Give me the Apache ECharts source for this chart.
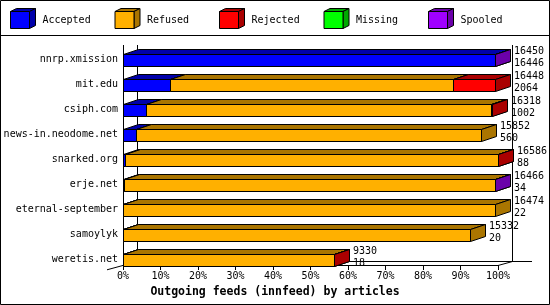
<!DOCTYPE html>
<html>
<head>
<meta charset="utf-8">
<script src="https://cdn.jsdelivr.net/npm/echarts@6/dist/echarts.min.js"></script>
<style>html,body{margin:0;padding:0;background:#fff}#c{width:550px;height:305px}</style>
</head>
<body>
<div id="c"></div>
<script>
const categories = ['nnrp.xmission','mit.edu','csiph.com','news-in.neodome.net','snarked.org','erje.net','eternal-september','samoylyk','weretis.net'];
const offered  = [16450,16448,16318,15852,16586,16466,16474,15332,9330];
const accepted = [16446,2064,1002,560,88,34,22,20,18];
const refused  = [0,12518,15296,15292,16488,16424,16452,15312,9302];
const rejected = [0,1866,20,0,10,0,0,0,10];
const missing  = [0,0,0,0,0,0,0,0,0];
const spooled  = [4,0,0,0,0,8,0,0,0];
const seriesNames = ['Accepted','Refused','Rejected','Missing','Spooled'];
const xTicks = [0,10,20,30,40,50,60,70,80,90,100];
const title = 'Outgoing feeds (innfeed) by articles';

const front = ['#0000ff','#ffb000','#ff0000','#00ff00','#a000ff'];
const dark  = ['#0000aa','#aa7500','#aa0000','#00aa00','#6b00aa'];
const FONT = '"DejaVu Sans Mono", "Liberation Mono", monospace';
const DX = 15, DY = 5, H = 12;

const base = Math.max.apply(null, offered);
const values = [accepted, refused, rejected, missing, spooled];

function boxRender(ci) {
  return function (params, api) {
    const s = api.value(0), e = api.value(1), cat = api.value(2);
    if (!(e > s)) return null;
    const p0 = api.coord([s, cat]), p1 = api.coord([e, cat]);
    const bc = p0[1];
    const x0 = Math.round(p0[0]) + 0.5, x1 = Math.round(p1[0]) + 0.5;
    const yt = Math.round(bc + 1) + 0.5, yb = yt + H;
    const st = {stroke:'#000', lineWidth:1};
    return {type:'group', children:[
      {type:'rect', shape:{x:x0, y:yt, width:x1-x0, height:H}, style:Object.assign({fill:front[ci]}, st)},
      {type:'polygon', shape:{points:[[x0,yt],[x1,yt],[x1+DX,yt-DY],[x0+DX,yt-DY]]}, style:Object.assign({fill:dark[ci]}, st)},
      {type:'polygon', shape:{points:[[x1,yt],[x1+DX,yt-DY],[x1+DX,yb-DY],[x1,yb]]}, style:Object.assign({fill:dark[ci]}, st)}
    ]};
  };
}

const series = [];
const cum = categories.map(() => 0);
values.forEach((arr, ci) => {
  const data = arr.map((v, i) => {
    const s = cum[i] / base * 100;
    cum[i] += v;
    return [s, cum[i] / base * 100, i];
  });
  series.push({type:'custom', name:seriesNames[ci], renderItem:boxRender(ci), encode:{x:[0,1], y:2}, data:data, z:2+ci, clip:false});
});
series.push({
  type:'custom', name:'labels', z:10, clip:false,
  encode:{x:0, y:2},
  data: offered.map((v, i) => [v / base * 100, accepted[i], i, v]),
  renderItem: function (params, api) {
    const p = api.coord([api.value(0), api.value(2)]);
    return {type:'text', style:{
      text: api.value(3) + '\n' + api.value(1),
      x: Math.round(p[0]) + DX + 4, y: p[1] + 4.5,
      font: '10px ' + FONT, fill:'#000', align:'left', verticalAlign:'middle', lineHeight:12
    }};
  }
});

const graphic = [
  {type:'rect', shape:{x:0.5,y:0.5,width:549,height:304}, style:{fill:'none',stroke:'#000',lineWidth:1}, z:0},
  {type:'line', shape:{x1:0,y1:35.5,x2:550,y2:35.5}, style:{stroke:'#000',lineWidth:1}},
  {type:'line', shape:{x1:123.5,y1:45,x2:123.5,y2:265}, style:{stroke:'#000',lineWidth:1}},
  {type:'line', shape:{x1:137.5,y1:45,x2:137.5,y2:261.5}, style:{stroke:'#000',lineWidth:1}},
  {type:'line', shape:{x1:512.5,y1:45,x2:512.5,y2:261.5}, style:{stroke:'#000',lineWidth:1}},
  {type:'line', shape:{x1:137.5,y1:261.5,x2:532,y2:261.5}, style:{stroke:'#000',lineWidth:1}},
  {type:'line', shape:{x1:107,y1:269.8,x2:137.5,y2:261.5}, style:{stroke:'#000',lineWidth:1}},
  {type:'line', shape:{x1:498,y1:265.5,x2:512.5,y2:261.5}, style:{stroke:'#000',lineWidth:1}},
  {type:'text', style:{text:title, x:275, y:292, font:'bold 11.5px ' + FONT, fill:'#000', align:'center', verticalAlign:'middle'}}
];
seriesNames.forEach((n, ci) => {
  const lx = 10.5 + ci * 104.5, ly = 11.5, w = 19, h = 17, dx = 6, dy = 3;
  const st = {stroke:'#000', lineWidth:1};
  graphic.push({type:'polygon', shape:{points:[[lx,ly],[lx+w,ly],[lx+w+dx,ly-dy],[lx+dx,ly-dy]]}, style:Object.assign({fill:dark[ci]}, st)});
  graphic.push({type:'polygon', shape:{points:[[lx+w,ly],[lx+w+dx,ly-dy],[lx+w+dx,ly+h-dy],[lx+w,ly+h]]}, style:Object.assign({fill:dark[ci]}, st)});
  graphic.push({type:'rect', shape:{x:lx,y:ly,width:w,height:h}, style:Object.assign({fill:front[ci]}, st)});
  graphic.push({type:'text', style:{text:n, x:lx + 32, y:20, font:'10px ' + FONT, fill:'#000', align:'left', verticalAlign:'middle'}});
});

const chart = echarts.init(document.getElementById('c'), null, {renderer:'canvas'});
chart.setOption({
  animation:false,
  backgroundColor:'#fff',
  grid:{left:123, right:52, top:40, height:225, containLabel:false},
  xAxis:{type:'value', min:0, max:100, interval:10,
    axisLine:{show:true, lineStyle:{color:'#000', width:1}},
    axisTick:{show:true, length:5, lineStyle:{color:'#000'}},
    splitLine:{show:false},
    axisLabel:{formatter: v => xTicks.indexOf(v) >= 0 ? v + '%' : '', color:'#000', fontFamily:FONT, fontSize:10, margin:6}
  },
  yAxis:{type:'category', data:categories, inverse:true,
    axisLine:{show:false}, axisTick:{show:false}, splitLine:{show:false},
    axisLabel:{color:'#000', fontFamily:FONT, fontSize:10, margin:5, verticalAlign:'top', lineHeight:14}
  },
  graphic:graphic,
  series:series
});
</script>
</body>
</html>
